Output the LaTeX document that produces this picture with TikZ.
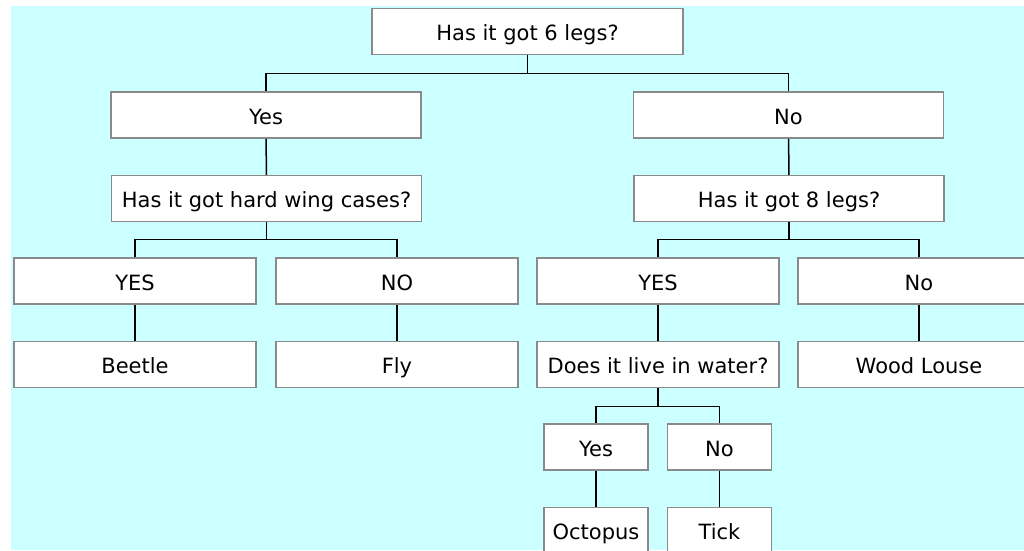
\documentclass[tikz,border=0pt]{standalone}
\usepackage{fontspec}
\setmainfont{DejaVu Sans}
\definecolor{SkyCyan}{HTML}{CCFFFF}
\definecolor{BoxGray}{HTML}{8A8A8A}

\begin{document}
\begin{tikzpicture}[x=1pt, y=-1pt,
    font=\fontsize{21}{25}\selectfont,
    keybox/.style={draw=BoxGray, line width=1.5pt, fill=white, inner sep=0pt,
      minimum height=46pt, text height=18pt, text depth=0pt},
    wide/.style={keybox, minimum width=310pt},
    mid/.style={keybox, minimum width=242pt},
    small/.style={keybox, minimum width=104pt},
    link/.style={line width=1.5pt, black}]
  \clip (0,0) rectangle (1024,550);
  \fill[white] (0,0) rectangle (1024,550);
  \fill[SkyCyan] (11,6) rectangle (1024,550);

  % questions and answers
  \node[wide, minimum width=311pt] (legs6) at (527.5,31.5) {Has it got 6 legs?};
  \node[wide] (yes1) at (266,115) {Yes};
  \node[wide] (no1) at (788.5,115) {No};
  \node[wide] (wings) at (266.5,198.5) {Has it got hard wing cases?};
  \node[wide] (legs8) at (789,198.5) {Has it got 8 legs?};
  \node[mid] (yes2) at (135,281) {YES};
  \node[mid] (no2) at (397,281) {NO};
  \node[mid] (yes3) at (658,281) {YES};
  \node[mid] (no3) at (919,281) {No};
  \node[mid] (beetle) at (135,364.5) {Beetle};
  \node[mid] (fly) at (397,364.5) {Fly};
  \node[mid] (water) at (658,364.5) {Does it live in water?};
  \node[mid] (louse) at (919,364.5) {Wood Louse};
  \node[small] (yes4) at (596,447) {Yes};
  \node[small] (no4) at (719.5,447) {No};
  \node[small] (octopus) at (596,530.5) {Octopus};
  \node[small] (tick) at (719.5,530.5) {Tick};

  % branches
  \draw[link] (legs6.south) -- ++(0,18) -| (yes1.north);
  \draw[link] (legs6.south) ++(0,18) -| (no1.north);
  \draw[link] (yes1) -- (wings);
  \draw[link] (no1) -- (legs8);
  \draw[link] (wings.south) -- ++(0,17) -| (yes2.north);
  \draw[link] (wings.south) ++(0,17) -| (no2.north);
  \draw[link] (legs8.south) -- ++(0,17) -| (yes3.north);
  \draw[link] (legs8.south) ++(0,17) -| (no3.north);
  \draw[link] (yes2) -- (beetle);
  \draw[link] (no2) -- (fly);
  \draw[link] (yes3) -- (water);
  \draw[link] (no3) -- (louse);
  \draw[link] (water.south) -- ++(0,18) -| (yes4.north);
  \draw[link] (water.south) ++(0,18) -| (no4.north);
  \draw[link] (yes4) -- (octopus);
  \draw[link] (no4) -- (tick);
\end{tikzpicture}
\end{document}
